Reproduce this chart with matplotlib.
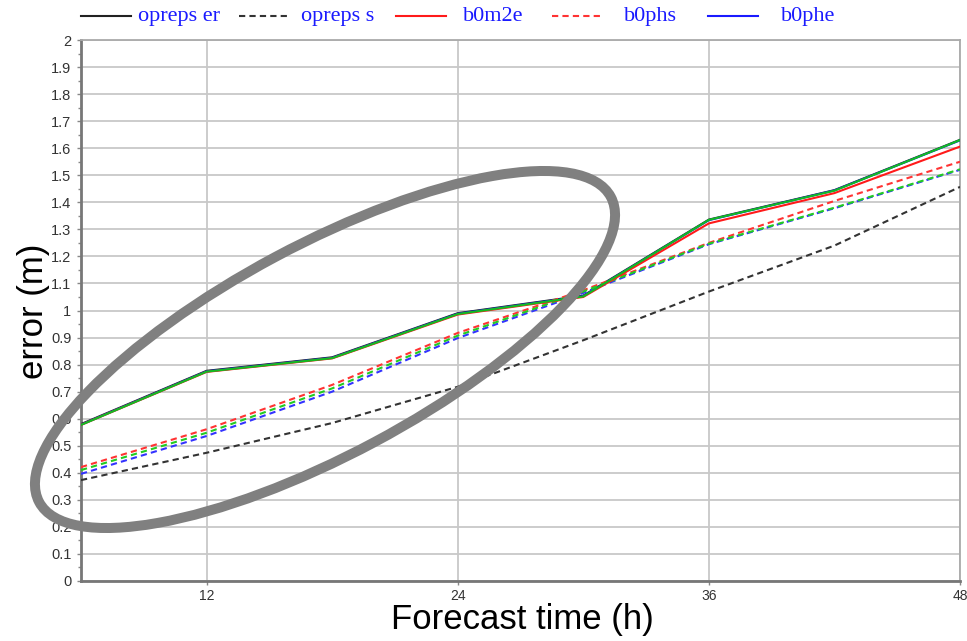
"""Forecast error vs lead time, with the highlighted early-range ellipse."""
import matplotlib
matplotlib.use("Agg")
import matplotlib.pyplot as plt
from matplotlib.lines import Line2D
from matplotlib.patches import Ellipse

# lead times (h)
hours = [6, 12, 18, 24, 30, 36, 42, 48]

# error (m) per experiment
opreps_er = [0.580, 0.777, 0.827, 0.990, 1.055, 1.336, 1.445, 1.631]
opreps_s = [0.373, 0.474, 0.584, 0.718, 0.890, 1.070, 1.240, 1.457]
b0m2e = [0.577, 0.773, 0.823, 0.985, 1.050, 1.322, 1.434, 1.606]
b0phs = [0.421, 0.561, 0.725, 0.917, 1.075, 1.250, 1.405, 1.550]
b0phe = [0.578, 0.775, 0.825, 0.988, 1.053, 1.334, 1.444, 1.629]
blue_s = [0.396, 0.536, 0.700, 0.898, 1.065, 1.245, 1.378, 1.520]
green_e = [0.577, 0.774, 0.824, 0.987, 1.052, 1.335, 1.443, 1.630]
green_s = [0.410, 0.548, 0.712, 0.907, 1.070, 1.247, 1.380, 1.522]

xticks = [12, 24, 36, 48]
yticks = [round(i * 0.1, 1) for i in range(21)]
yminor = [round(i * 0.1 + 0.05, 2) for i in range(20)]
ytick_labels = [f"{v:g}" for v in yticks]

W, H = 967, 641
fig = plt.figure(figsize=(W / 100, H / 100), dpi=100)
ax = fig.add_axes([81 / W, 1 - 581 / H, 879 / W, 541 / H])

dash = (0, (3, 2))
lw = 1.5
series = [
    ("opreps er", opreps_er, "#222222", "-", 3),
    ("opreps s", opreps_s, "#333333", dash, 3),
    ("b0phe", b0phe, "#1a1aff", "-", 3),
    ("b0m2e", b0m2e, "#ff1a1a", "-", 4),
    ("b0phs", b0phs, "#ff3333", dash, 3),
    (None, blue_s, "#3333ff", dash, 3),
    (None, green_s, "#22cc22", dash, 3),
    (None, green_e, "#11bb22", "-", 5),
]
styles = {}
for name, vals, col, ls, z in series:
    ax.plot(hours, vals, color=col, lw=lw, ls=ls, zorder=z)
    if name:
        styles[name] = (col, ls)

ax.set_xlim(6, 48)
ax.set_ylim(0, 2)
ax.set_xticks(xticks)
ax.set_yticks(yticks, ytick_labels)
ax.set_yticks(yminor, minor=True)
ax.grid(True, which="major", color="#c8c8c8", lw=1.3, zorder=0)
ax.tick_params(axis="y", which="major", length=3, width=1, color="#888888",
               labelsize=10.5, labelcolor="#333333", pad=4)
ax.tick_params(axis="y", which="minor", length=2, width=1, color="#888888")
ax.tick_params(axis="x", length=3, width=1, color="#888888",
               labelsize=10, labelcolor="#333333", pad=3)
for lab in ax.get_xticklabels() + ax.get_yticklabels():
    lab.set_family(["Liberation Sans Narrow", "Liberation Sans"])
for side in ["left", "bottom"]:
    ax.spines[side].set_color("#777777")
    ax.spines[side].set_linewidth(2)
for side in ["top", "right"]:
    ax.spines[side].set_color("#aaaaaa")
    ax.spines[side].set_linewidth(1.3)

ax.set_xlabel("Forecast time (h)", fontsize=25, family="Liberation Sans", va="center")
ax.xaxis.set_label_coords((522 - 81) / 879, (581 - 620) / 541)
ax.set_ylabel("error (m)", fontsize=25, family="Liberation Sans", va="center")
ax.yaxis.set_label_coords((34 - 81) / 879, (581 - 311) / 541)

# legend row across the top (sample start x, text start x in pixels)
legend_order = ["opreps er", "opreps s", "b0m2e", "b0phs", "b0phe"]
legend_x = [(81, 138), (239, 301), (396, 463), (552, 624), (708, 781)]
ly = 1 - 16 / H
base = 1 - 21 / H
for name, (lx, tx) in zip(legend_order, legend_x):
    col, ls = styles[name]
    fig.add_artist(Line2D([lx / W, (lx + 50) / W], [ly, ly], color=col, ls=ls, lw=lw))
    fig.text(tx / W, base, name, color="#1a1aff", family="Liberation Serif",
             fontsize=16, va="baseline", ha="left")

# grey highlight ellipse drawn in pixel space over everything
over = fig.add_axes([0, 0, 1, 1])
over.set_xlim(0, W)
over.set_ylim(H, 0)
over.axis("off")
over.add_patch(Ellipse((325, 349.5), 648, 210, angle=-28.1, fill=False,
                       edgecolor="#808080", lw=7.2))

fig.savefig("out.png", dpi=100)
